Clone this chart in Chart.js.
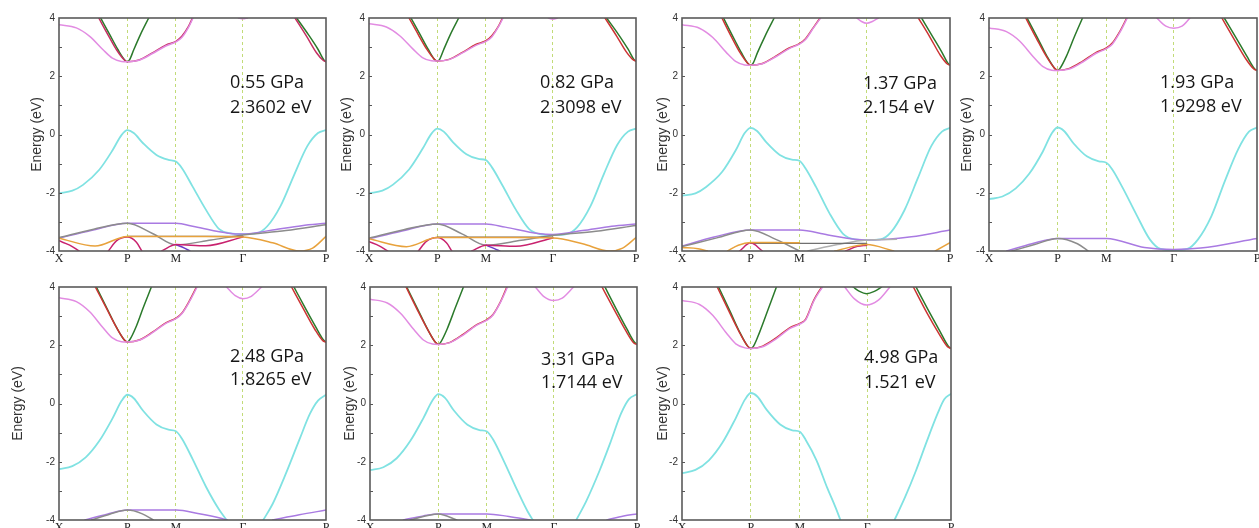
<!DOCTYPE html>
<html><head><meta charset="utf-8">
<script src="https://cdn.jsdelivr.net/npm/chart.js@4.4.0/dist/chart.umd.min.js"></script>
<style>
html,body{margin:0;padding:0;background:#fff;overflow:hidden;width:1259px;height:528px;position:relative}
canvas{position:absolute}
</style></head><body>
<script>
// ---------- axis / label data ----------
const kPos = [0, 0.256, 0.438, 0.689, 1];
const kLabels = ['X', 'P', 'M', 'Γ', 'P'];
const yTicks = [-4, -2, 0, 2, 4];
const pressures = ['0.55 GPa', '0.82 GPa', '1.37 GPa', '1.93 GPa', '2.48 GPa', '3.31 GPa', '4.98 GPa'];
const gaps = ['2.3602 eV', '2.3098 eV', '2.154 eV', '1.9298 eV', '1.8265 eV', '1.7144 eV', '1.521 eV'];

// ---------- panel 1 (0.55 GPa) ----------
const cyan1 = [[0,-2.02],[0.05,-1.93],[0.09,-1.73],[0.15,-1.22],[0.2,-0.55],[0.234,-0.02],[0.256,0.15],[0.28,0.05],[0.315,-0.3],[0.365,-0.7],[0.41,-0.87],[0.438,-0.93],[0.46,-1.15],[0.5,-1.78],[0.55,-2.58],[0.6,-3.25],[0.64,-3.39],[0.689,-3.42],[0.74,-3.39],[0.78,-3.15],[0.83,-2.45],[0.88,-1.4],[0.93,-0.4],[0.97,0.05],[1,0.15]];
const pink1 = [[0,3.77],[0.065,3.66],[0.115,3.37],[0.165,2.91],[0.2,2.62],[0.234,2.51],[0.256,2.5],[0.3,2.55],[0.35,2.78],[0.4,3.04],[0.438,3.18],[0.46,3.33],[0.485,3.68],[0.502,4]];
const red1 = [[0.149,4],[0.183,3.43],[0.216,2.9],[0.246,2.55],[0.256,2.5],[0.3,2.56],[0.35,2.8],[0.4,3.07],[0.438,3.2],[0.46,3.37],[0.485,3.71],[0.5,4]];
const green1 = [[0.156,4],[0.19,3.43],[0.221,2.91],[0.246,2.56],[0.256,2.5],[0.264,2.56],[0.28,2.91],[0.305,3.43],[0.336,4]];
const redR1 = [[0.884,4],[0.9275,3.37],[0.965,2.8],[0.99,2.54],[1,2.5]];
const greenR1 = [[0.89,4],[0.934,3.43],[0.971,2.91],[0.992,2.56],[1,2.5]];
const pinkTop1 = [[0.672,4],[0.689,3.97],[0.706,4]];
const purple1 = [[0,-3.56],[0.12,-3.3],[0.256,-3.05],[0.438,-3.05],[0.51,-3.17],[0.634,-3.39],[0.689,-3.42],[0.8,-3.28],[0.909,-3.13],[1,-3.05]];
const gray1 = [[0,-3.54],[0.13,-3.25],[0.256,-3.05],[0.35,-3.4],[0.438,-3.79],[0.57,-3.62],[0.689,-3.45],[0.85,-3.3],[1,-3.1]];
const grayFlat1 = [[0.256,-3.5],[0.689,-3.5]];
const orange1 = [[0,-3.56],[0.135,-3.83],[0.256,-3.5],[0.438,-3.5],[0.55,-3.5],[0.689,-3.52],[0.8,-3.72],[0.9,-4],[0.95,-3.9],[1,-3.5]];
const crimsonA1 = [[0,-3.65],[0.04,-3.8],[0.075,-4]];
const crimsonB1 = [[0.185,-4],[0.215,-3.65],[0.256,-3.52],[0.29,-3.7],[0.31,-4]];
const crimsonC1 = [[0.385,-4],[0.438,-3.78],[0.55,-3.82],[0.689,-3.52]];
const violet1 = [[0.438,-3.78],[0.47,-3.9],[0.49,-4]];

// ---------- panel 2 (0.82 GPa) ----------
const cyan2 = [[0,-2.02],[0.05,-1.93],[0.09,-1.72],[0.15,-1.2],[0.2,-0.5],[0.234,0.03],[0.256,0.2],[0.28,0.1],[0.315,-0.27],[0.365,-0.68],[0.41,-0.84],[0.438,-0.88],[0.46,-1.12],[0.5,-1.75],[0.55,-2.58],[0.6,-3.25],[0.64,-3.42],[0.689,-3.45],[0.74,-3.42],[0.78,-3.18],[0.83,-2.45],[0.88,-1.35],[0.93,-0.35],[0.97,0.1],[1,0.2]];
const pink2 = [[0,3.8],[0.065,3.69],[0.115,3.39],[0.165,2.93],[0.2,2.64],[0.234,2.53],[0.256,2.52],[0.3,2.57],[0.35,2.8],[0.4,3.06],[0.438,3.2],[0.46,3.35],[0.485,3.7],[0.502,4]];
const red2 = [[0.15,4],[0.184,3.44],[0.217,2.92],[0.246,2.57],[0.256,2.52],[0.3,2.58],[0.35,2.82],[0.4,3.09],[0.438,3.22],[0.46,3.39],[0.485,3.72],[0.5,4]];
const green2 = [[0.157,4],[0.191,3.44],[0.222,2.92],[0.246,2.57],[0.256,2.52],[0.264,2.57],[0.28,2.92],[0.305,3.44],[0.336,4]];
const redR2 = [[0.884,4],[0.9275,3.38],[0.965,2.82],[0.99,2.56],[1,2.52]];
const greenR2 = [[0.89,4],[0.934,3.44],[0.971,2.92],[0.992,2.58],[1,2.52]];
const pinkTop2 = [[0.672,4],[0.689,3.96],[0.706,4]];
const purple2 = [[0,-3.58],[0.12,-3.32],[0.256,-3.07],[0.438,-3.07],[0.51,-3.18],[0.634,-3.4],[0.689,-3.43],[0.8,-3.3],[0.909,-3.15],[1,-3.07]];
const gray2 = [[0,-3.56],[0.13,-3.27],[0.256,-3.07],[0.35,-3.42],[0.438,-3.8],[0.57,-3.63],[0.689,-3.46],[0.85,-3.32],[1,-3.12]];
const grayFlat2 = [[0.256,-3.52],[0.689,-3.52]];
const orange2 = [[0,-3.58],[0.14,-3.85],[0.256,-3.54],[0.438,-3.54],[0.55,-3.54],[0.689,-3.55],[0.8,-3.75],[0.9,-4],[0.95,-3.9],[1,-3.54]];
const crimsonA2 = [[0,-3.68],[0.04,-3.83],[0.07,-4]];
const crimsonB2 = [[0.185,-4],[0.215,-3.67],[0.256,-3.54],[0.29,-3.72],[0.31,-4]];
const crimsonC2 = [[0.385,-4],[0.438,-3.8],[0.55,-3.84],[0.689,-3.55]];
const violet2 = [[0.438,-3.8],[0.47,-3.92],[0.49,-4]];

// ---------- panel 3 (1.37 GPa) ----------
const cyan3 = [[0,-2.1],[0.05,-2.02],[0.09,-1.8],[0.15,-1.28],[0.2,-0.55],[0.234,0.05],[0.256,0.23],[0.28,0.12],[0.315,-0.27],[0.365,-0.7],[0.41,-0.86],[0.438,-0.9],[0.46,-1.15],[0.5,-1.8],[0.55,-2.7],[0.6,-3.4],[0.645,-3.6],[0.689,-3.62],[0.74,-3.6],[0.78,-3.35],[0.83,-2.6],[0.88,-1.5],[0.93,-0.4],[0.97,0.1],[1,0.23]];
const pink3 = [[0,3.77],[0.065,3.65],[0.115,3.33],[0.165,2.82],[0.2,2.51],[0.234,2.39],[0.256,2.38],[0.3,2.43],[0.35,2.67],[0.4,2.95],[0.438,3.1],[0.46,3.25],[0.49,3.65],[0.517,4]];
const red3 = [[0.149,4],[0.183,3.38],[0.216,2.82],[0.246,2.44],[0.256,2.38],[0.3,2.44],[0.35,2.69],[0.4,2.97],[0.438,3.12],[0.46,3.28],[0.49,3.67],[0.515,4]];
const green3 = [[0.155,4],[0.189,3.38],[0.221,2.82],[0.246,2.44],[0.256,2.38],[0.265,2.44],[0.282,2.82],[0.31,3.38],[0.344,4]];
const redR3 = [[0.882,4],[0.926,3.33],[0.964,2.72],[0.99,2.42],[1,2.38]];
const greenR3 = [[0.894,4],[0.934,3.38],[0.97,2.82],[0.992,2.45],[1,2.38]];
const pinkTop3 = [[0.652,4],[0.67,3.88],[0.689,3.82],[0.71,3.88],[0.733,4]];
const purple3 = [[0,-3.83],[0.12,-3.52],[0.256,-3.28],[0.438,-3.28],[0.545,-3.45],[0.689,-3.62],[0.856,-3.51],[1,-3.28]];
const gray3 = [[0,-3.85],[0.13,-3.55],[0.256,-3.28],[0.35,-3.6],[0.438,-4]];
const grayB3 = [[0.47,-4],[0.58,-3.78],[0.689,-3.62],[0.8,-3.6]];
const grayFlat3 = [[0.256,-3.74],[0.689,-3.74]];
const orangeA3 = [[0,-3.88],[0.06,-3.92],[0.095,-4]];
const orangeB3 = [[0.17,-4],[0.21,-3.8],[0.256,-3.71],[0.35,-3.71],[0.438,-3.72]];
const orangeC3 = [[0.57,-4],[0.689,-3.78],[0.79,-4]];
const orangeD3 = [[0.945,-4],[1,-3.71]];
const crimsonA3 = [[0.215,-4],[0.256,-3.72],[0.3,-4]];
const crimsonB3 = [[0.61,-4],[0.655,-3.84],[0.689,-3.8]];

// ---------- panel 4 (1.93 GPa) ----------
const cyan4 = [[0,-2.22],[0.05,-2.13],[0.1,-1.85],[0.15,-1.35],[0.2,-0.6],[0.235,0.05],[0.256,0.24],[0.28,0.12],[0.315,-0.3],[0.365,-0.75],[0.41,-0.92],[0.438,-0.97],[0.46,-1.2],[0.5,-1.85],[0.55,-2.75],[0.6,-3.6],[0.64,-3.93],[0.689,-3.98],[0.74,-3.93],[0.78,-3.6],[0.83,-2.8],[0.88,-1.6],[0.93,-0.5],[0.97,0.1],[1,0.24]];
const pink4 = [[0,3.66],[0.065,3.53],[0.115,3.2],[0.165,2.67],[0.2,2.34],[0.234,2.21],[0.256,2.2],[0.3,2.25],[0.35,2.49],[0.4,2.79],[0.438,2.95],[0.46,3.1],[0.49,3.53],[0.516,4]];
const red4 = [[0.137,4],[0.177,3.3],[0.214,2.68],[0.245,2.27],[0.256,2.2],[0.3,2.27],[0.35,2.52],[0.4,2.82],[0.438,2.97],[0.46,3.14],[0.49,3.57],[0.514,4]];
const green4 = [[0.142,4],[0.181,3.32],[0.216,2.69],[0.245,2.27],[0.256,2.2],[0.265,2.27],[0.289,2.69],[0.317,3.32],[0.349,4]];
const redR4 = [[0.869,4],[0.916,3.25],[0.958,2.6],[0.988,2.25],[1,2.2]];
const greenR4 = [[0.878,4],[0.922,3.32],[0.962,2.69],[0.99,2.27],[1,2.2]];
const pinkTop4 = [[0.626,4],[0.66,3.72],[0.689,3.65],[0.72,3.72],[0.75,4]];
const purple4 = [[0.066,-4],[0.16,-3.75],[0.256,-3.57],[0.438,-3.57],[0.58,-3.88],[0.689,-3.95],[0.79,-3.9],[1,-3.57]];
const gray4 = [[0.085,-4],[0.17,-3.78],[0.256,-3.57],[0.33,-3.75],[0.37,-4]];

// ---------- panel 5 (2.48 GPa) ----------
const cyanA5 = [[0,-2.25],[0.05,-2.15],[0.1,-1.85],[0.15,-1.3],[0.2,-0.52],[0.235,0.1],[0.256,0.3],[0.28,0.18],[0.315,-0.25],[0.365,-0.72],[0.41,-0.9],[0.438,-0.95],[0.46,-1.2],[0.5,-1.9],[0.55,-2.85],[0.6,-3.65],[0.628,-4]];
const cyanB5 = [[0.765,-4],[0.8,-3.45],[0.85,-2.4],[0.9,-1.25],[0.94,-0.35],[0.97,0.1],[1,0.3]];
const pink5 = [[0,3.63],[0.065,3.5],[0.115,3.15],[0.165,2.6],[0.2,2.25],[0.234,2.12],[0.256,2.11],[0.3,2.17],[0.35,2.43],[0.4,2.75],[0.438,2.91],[0.46,3.08],[0.49,3.52],[0.517,4]];
const red5 = [[0.136,4],[0.177,3.28],[0.214,2.63],[0.245,2.18],[0.256,2.11],[0.3,2.18],[0.35,2.45],[0.4,2.77],[0.438,2.93],[0.46,3.1],[0.49,3.55],[0.515,4]];
const green5 = [[0.14,4],[0.179,3.28],[0.215,2.62],[0.244,2.19],[0.256,2.11],[0.265,2.19],[0.288,2.62],[0.315,3.28],[0.346,4]];
const redR5 = [[0.871,4],[0.917,3.22],[0.958,2.55],[0.988,2.16],[1,2.11]];
const greenR5 = [[0.88,4],[0.922,3.28],[0.962,2.62],[0.99,2.19],[1,2.11]];
const pinkTop5 = [[0.6275,4],[0.66,3.7],[0.689,3.6],[0.72,3.68],[0.759,4]];
const purpleA5 = [[0.097,-4],[0.18,-3.8],[0.256,-3.66],[0.44,-3.66],[0.52,-3.78],[0.61,-3.95],[0.63,-4]];
const purpleB5 = [[0.8,-4],[0.9,-3.82],[1,-3.66]];
const gray5 = [[0.122,-4],[0.19,-3.8],[0.256,-3.66],[0.31,-3.78],[0.353,-4]];

// ---------- panel 6 (3.31 GPa) ----------
const cyanA6 = [[0,-2.29],[0.05,-2.19],[0.1,-1.88],[0.15,-1.3],[0.2,-0.5],[0.235,0.12],[0.256,0.32],[0.28,0.2],[0.315,-0.25],[0.365,-0.73],[0.41,-0.91],[0.438,-0.96],[0.46,-1.22],[0.5,-1.95],[0.55,-2.95],[0.59,-3.7],[0.61,-4]];
const cyanB6 = [[0.7725,-4],[0.81,-3.35],[0.86,-2.3],[0.9,-1.35],[0.94,-0.35],[0.97,0.15],[1,0.32]];
const pink6 = [[0,3.58],[0.065,3.45],[0.115,3.09],[0.165,2.53],[0.2,2.18],[0.234,2.04],[0.256,2.03],[0.3,2.09],[0.35,2.36],[0.4,2.69],[0.438,2.86],[0.46,3.03],[0.49,3.5],[0.515,4]];
const red6 = [[0.135,4],[0.176,3.24],[0.214,2.57],[0.245,2.1],[0.256,2.03],[0.3,2.1],[0.35,2.38],[0.4,2.71],[0.438,2.88],[0.46,3.05],[0.49,3.52],[0.5125,4]];
const green6 = [[0.1375,4],[0.178,3.25],[0.215,2.56],[0.244,2.11],[0.256,2.03],[0.265,2.11],[0.289,2.56],[0.318,3.25],[0.35,4]];
const redR6 = [[0.869,4],[0.916,3.2],[0.958,2.5],[0.988,2.08],[1,2.03]];
const greenR6 = [[0.88,4],[0.922,3.25],[0.962,2.56],[0.99,2.11],[1,2.03]];
const pinkTop6 = [[0.619,4],[0.65,3.68],[0.6875,3.54],[0.72,3.62],[0.7625,4]];
const purpleA6 = [[0.125,-4],[0.2,-3.86],[0.256,-3.79],[0.438,-3.79],[0.52,-3.88],[0.6,-4]];
const purpleB6 = [[0.8875,-4],[0.95,-3.86],[1,-3.79]];
const gray6 = [[0.15,-4],[0.256,-3.79],[0.325,-4]];

// ---------- panel 7 (4.98 GPa) ----------
const cyanA7 = [[0,-2.39],[0.05,-2.28],[0.1,-1.95],[0.15,-1.35],[0.2,-0.5],[0.235,0.15],[0.256,0.36],[0.28,0.24],[0.315,-0.22],[0.365,-0.72],[0.41,-0.92],[0.438,-0.97],[0.46,-1.25],[0.5,-1.95],[0.54,-2.9],[0.57,-3.55],[0.589,-4]];
const cyanB7 = [[0.79,-4],[0.83,-3.2],[0.87,-2.3],[0.91,-1.3],[0.95,-0.35],[0.975,0.15],[1,0.33]];
const pink7 = [[0,3.54],[0.065,3.4],[0.115,3.02],[0.165,2.42],[0.2,2.05],[0.234,1.91],[0.256,1.89],[0.3,1.95],[0.35,2.22],[0.4,2.57],[0.438,2.73],[0.46,2.87],[0.49,3.52],[0.522,4]];
const red7 = [[0.131,4],[0.174,3.18],[0.212,2.47],[0.244,1.97],[0.256,1.89],[0.3,1.97],[0.35,2.25],[0.4,2.6],[0.438,2.75],[0.46,2.9],[0.49,3.55],[0.519,4]];
const green7 = [[0.136,4],[0.177,3.2],[0.214,2.46],[0.244,1.97],[0.256,1.89],[0.266,1.97],[0.289,2.46],[0.319,3.2],[0.351,4]];
const redR7 = [[0.86,4],[0.91,3.12],[0.955,2.4],[0.987,1.95],[1,1.89]];
const greenR7 = [[0.87,4],[0.916,3.2],[0.96,2.46],[0.99,1.97],[1,1.89]];
const pinkTop7 = [[0.605,4],[0.64,3.6],[0.686,3.38],[0.73,3.55],[0.773,4]];
const greenTop7 = [[0.636,4],[0.66,3.85],[0.686,3.77],[0.715,3.85],[0.742,4]];

// ---------- styling / layout (not data) ----------
const C = {cyan:'#80e2e2', pink:'#e28ce2', red:'#cc3434', crim:'#c52f62', green:'#2b7a2b',
  purple:'#a97ae2', gray:'#8c8c8c', grayD:'#707070', orange:'#e8a23c', crimson:'#c8226e', violet:'#6a3cc8'};
const panelLeft = [59, 369, 682, 989, 59, 370, 682];
const panelTop = [18, 18, 18, 18, 287, 287, 287];
const panelW = [267, 267, 268, 268, 267, 267, 269];
const panelH = [233, 233, 233, 233, 233, 233, 233];
const titleOff = [-22, -22, -19, -22, -40.5, -20, -19];
const textX = [0.64, 0.64, 0.675, 0.638, 0.64, 0.64, 0.677];
const textY1 = [1.77, 1.77, 1.73, 1.77, 1.6, 1.5, 1.56];
const textY2 = [0.91, 0.91, 0.91, 0.94, 0.81, 0.7, 0.7];

function B(d, c, w){ return {d, c, w: w || 1.5}; }
const panels = [
  [B(orange1,C.orange),B(crimsonA1,C.crimson),B(crimsonB1,C.crimson),B(crimsonC1,C.crimson),B(violet1,C.violet),B(grayFlat1,C.grayD,1.2),B(gray1,C.gray),B(purple1,C.purple),
   B(cyan1,C.cyan,1.8),B(pink1,C.pink),B(pinkTop1,C.pink),B(red1,C.crim),B(green1,C.green),B(redR1,C.crim),B(greenR1,C.green)],
  [B(orange2,C.orange),B(crimsonA2,C.crimson),B(crimsonB2,C.crimson),B(crimsonC2,C.crimson),B(violet2,C.violet),B(grayFlat2,C.grayD,1.2),B(gray2,C.gray),B(purple2,C.purple),
   B(cyan2,C.cyan,1.8),B(pink2,C.pink),B(pinkTop2,C.pink),B(red2,C.red),B(green2,C.green),B(redR2,C.red),B(greenR2,C.green)],
  [B(orangeA3,C.orange),B(orangeB3,C.orange),B(orangeC3,C.orange),B(orangeD3,C.orange),B(crimsonA3,C.crimson),B(crimsonB3,C.crimson),B(grayFlat3,C.grayD,1.2),B(grayB3,'#b0b0b0'),B(gray3,C.gray),B(purple3,C.purple),
   B(cyan3,C.cyan,1.8),B(pink3,C.pink),B(pinkTop3,C.pink),B(red3,C.red),B(green3,C.green),B(redR3,C.red),B(greenR3,C.green)],
  [B(gray4,C.gray),B(purple4,C.purple),
   B(cyan4,C.cyan,1.8),B(pink4,C.pink),B(pinkTop4,C.pink),B(red4,C.red),B(green4,C.green),B(redR4,C.red),B(greenR4,C.green)],
  [B(gray5,C.gray),B(purpleA5,C.purple),B(purpleB5,C.purple),
   B(cyanA5,C.cyan,1.8),B(cyanB5,C.cyan,1.8),B(pink5,C.pink),B(pinkTop5,C.pink),B(red5,C.red),B(green5,C.green),B(redR5,C.red),B(greenR5,C.green)],
  [B(gray6,C.gray),B(purpleA6,C.purple),B(purpleB6,C.purple),
   B(cyanA6,C.cyan,1.8),B(cyanB6,C.cyan,1.8),B(pink6,C.pink),B(pinkTop6,C.pink),B(red6,C.red),B(green6,C.green),B(redR6,C.red),B(greenR6,C.green)],
  [B(cyanA7,C.cyan,1.8),B(cyanB7,C.cyan,1.8),B(pink7,C.pink),B(pinkTop7,C.pink),B(greenTop7,C.green),B(red7,C.red),B(green7,C.green),B(redR7,C.red),B(greenR7,C.green)]
];

const AXW = 62, PR = 10, PT = 18, XH = 22;

function decorPlugin(i){
  return {
    id: 'decor' + i,
    afterDraw(chart){
      const ctx = chart.ctx, a = chart.chartArea, ys = chart.scales.y, xs = chart.scales.x;
      ctx.save();
      // inner minor ticks on left axis
      ctx.strokeStyle = '#555'; ctx.lineWidth = 1;
      for (let v = -3; v <= 3; v++) {
        const y = Math.round(ys.getPixelForValue(v)) + 0.5;
        ctx.beginPath(); ctx.moveTo(a.left, y); ctx.lineTo(a.left + 3, y); ctx.stroke();
      }
      // frame
      ctx.strokeStyle = '#5a5a5a'; ctx.lineWidth = 1.6;
      ctx.strokeRect(a.left, a.top, a.right - a.left, a.bottom - a.top);
      // annotation text
      ctx.fillStyle = '#161616';
      ctx.font = '18px "Open Sans", "Liberation Sans", sans-serif';
      ctx.textAlign = 'left'; ctx.textBaseline = 'middle';
      const tx = xs.getPixelForValue(textX[i]);
      ctx.fillText(pressures[i], tx, ys.getPixelForValue(textY1[i]));
      ctx.fillText(gaps[i], tx, ys.getPixelForValue(textY2[i]));
      ctx.restore();
    }
  };
}

function makePanel(i){
  const cv = document.createElement('canvas');
  const w = AXW + panelW[i] + PR, h = PT + panelH[i] + XH;
  cv.width = w; cv.height = h;
  cv.style.width = w + 'px'; cv.style.height = h + 'px';
  cv.style.left = (panelLeft[i] - AXW) + 'px';
  cv.style.top = (panelTop[i] - PT) + 'px';
  document.body.appendChild(cv);
  const titlePad = AXW + titleOff[i] - 8.4;
  new Chart(cv, {
    type: 'line',
    data: { datasets: panels[i].map(b => ({
      data: b.d, borderColor: b.c, borderWidth: b.w, pointRadius: 0, pointHoverRadius: 0,
      fill: false, cubicInterpolationMode: 'monotone', borderCapStyle: 'round', borderJoinStyle: 'round'
    })) },
    options: {
      responsive: false, animation: false, devicePixelRatio: 1,
      events: [],
      layout: { padding: { left: 0, right: PR, top: PT, bottom: 0 } },
      plugins: { legend: { display: false }, tooltip: { enabled: false } },
      scales: {
        x: {
          type: 'linear', min: 0, max: 1,
          afterBuildTicks: s => { s.ticks = kPos.map(v => ({ value: v })); },
          afterFit: s => { s.height = XH; },
          ticks: { autoSkip: false, maxRotation: 0, padding: 1, color: '#222',
            font: { family: '"Liberation Serif", "Times New Roman", serif', size: 12 },
            callback: (v, idx) => kLabels[idx] },
          grid: { drawTicks: false, lineWidth: 1,
            color: c => (c.index > 0 && c.index < kPos.length - 1) ? '#c2db78' : 'rgba(0,0,0,0)' },
          border: { display: false, dash: [3, 3] }
        },
        y: {
          min: -4, max: 4,
          afterBuildTicks: s => { s.ticks = yTicks.map(v => ({ value: v })); },
          afterFit: s => { s.width = AXW; },
          ticks: { padding: 4, color: '#333', font: { family: '"Liberation Sans", Arial, sans-serif', size: 10 } },
          grid: { display: false, drawTicks: false },
          border: { display: false },
          title: { display: true, text: 'Energy (eV)', color: '#333',
            font: { family: '"Liberation Sans", Arial, sans-serif', size: 14 },
            padding: { top: titlePad, bottom: 0 } }
        }
      }
    },
    plugins: [decorPlugin(i)]
  });
}

for (let i = 0; i < panels.length; i++) makePanel(i);
</script>
</body></html>
